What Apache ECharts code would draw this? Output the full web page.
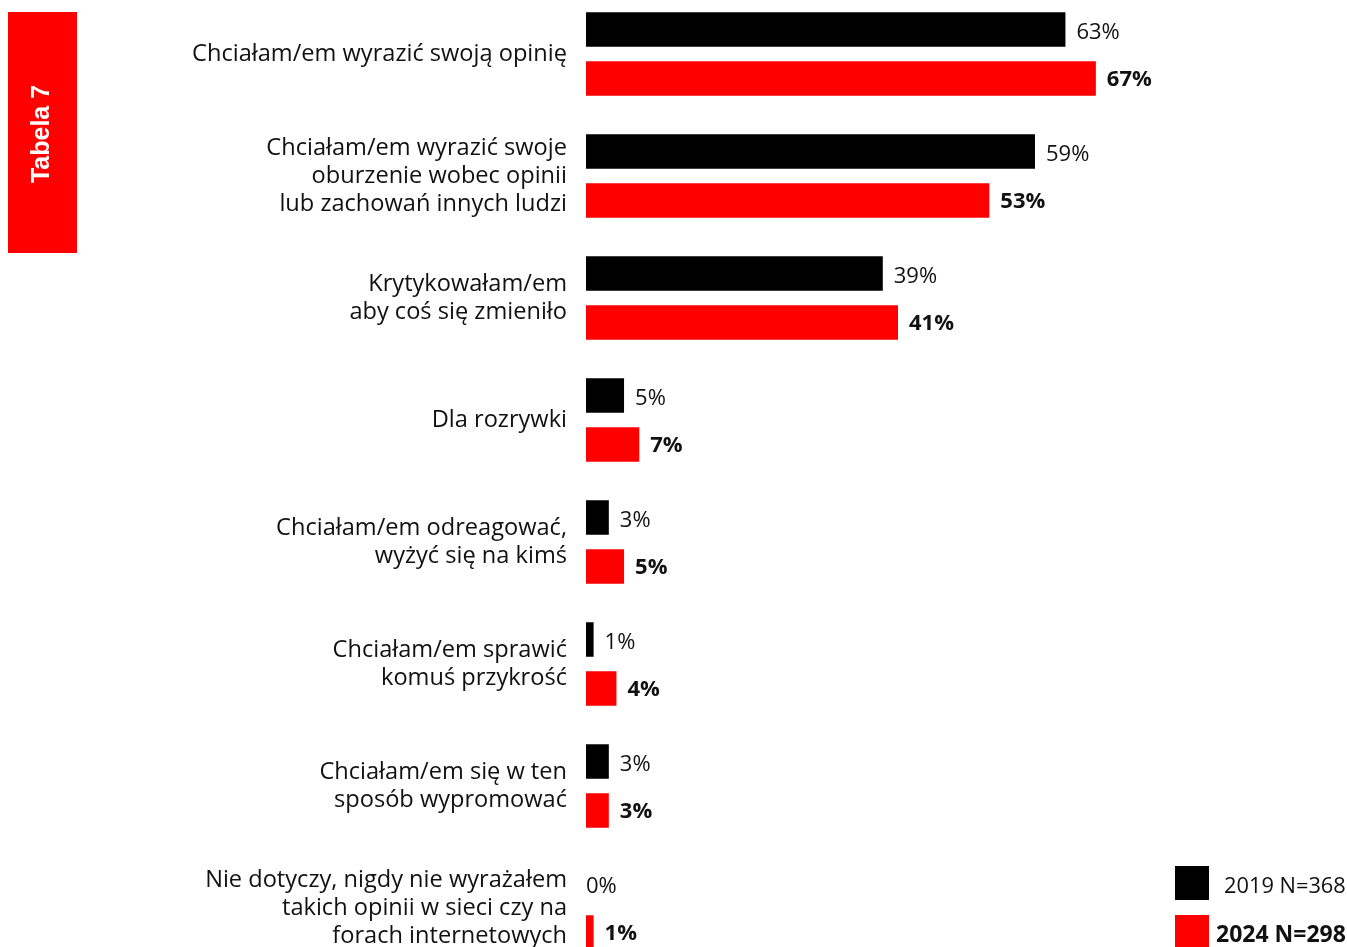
<!DOCTYPE html>
<html>
<head>
<meta charset="utf-8">
<script src="https://cdn.jsdelivr.net/npm/echarts@6/dist/echarts.min.js"></script>
<style>
  html, body { margin: 0; padding: 0; background: #fff; overflow: hidden; }
  body { width: 1347px; height: 947px; position: relative; }
  #chart { position: absolute; left: 0; top: -7px; width: 1347px; height: 990px; }
</style>
</head>
<body>
<div id="chart"></div>
<script>
// Reasons for posting opinions online, 2019 vs 2024 (percent of respondents)
const categories = [
  'Chciałam/em wyrazić swoją opinię',
  'Chciałam/em wyrazić swoje\noburzenie wobec opinii\nlub zachowań innych ludzi',
  'Krytykowałam/em\naby coś się zmieniło',
  'Dla rozrywki',
  'Chciałam/em odreagować,\nwyżyć się na kimś',
  'Chciałam/em sprawić\nkomuś przykrość',
  'Chciałam/em się w ten\nsposób wypromować',
  'Nie dotyczy, nigdy nie wyrażałem\ntakich opinii w sieci czy na\nforach internetowych'
];
const values2019 = [63, 59, 39, 5, 3, 1, 3, 0];
const values2024 = [67, 53, 41, 7, 5, 4, 3, 1];
const seriesNames = ['2019 N=368', '2024 N=298'];
const tableTitle = 'Tabela 7';

const FONT = '"Open Sans", sans-serif';
const RED = '#ff0000';
const BLACK = '#000000';

// a zero-length bar keeps its label right at the axis start
const withZeroLabel = arr => arr.map(v => v === 0 ? { value: v, label: { distance: 0 } } : v);

const chart = echarts.init(document.getElementById('chart'), null, { renderer: 'canvas' });

chart.setOption({
  animation: false,
  backgroundColor: '#ffffff',
  grid: { left: 586, top: 0, width: 763, height: 976, containLabel: false },
  xAxis: {
    type: 'value', min: 0, max: 100,
    show: false
  },
  yAxis: {
    type: 'category',
    data: categories,
    inverse: true,
    axisLine: { show: false },
    axisTick: { show: false },
    splitLine: { show: false },
    axisLabel: {
      margin: 19,
      align: 'right',
      color: '#111',
      fontFamily: FONT,
      fontSize: 23.6,
      lineHeight: 28
    }
  },
  legend: {
    orient: 'vertical',
    left: 1175,
    top: 873,
    padding: 0,
    itemWidth: 34,
    itemHeight: 34,
    itemGap: 15,
    icon: 'rect',
    data: seriesNames,
    formatter: name => name === seriesNames[1] ? '{b|' + name + '}' : '{n|' + name + '}',
    textStyle: {
      rich: {
        n: { fontFamily: FONT, fontSize: 21.8, color: '#111', padding: [8, 0, 0, 10] },
        b: { fontFamily: FONT, fontSize: 23, fontWeight: 'bold', color: '#111', padding: [7, 0, 0, 2] }
      }
    }
  },
  series: [
    {
      name: seriesNames[0],
      type: 'bar',
      data: withZeroLabel(values2019),
      barWidth: 34.5,
      barGap: '42%',
      itemStyle: { color: BLACK },
      label: {
        show: true, position: 'right', distance: 11, offset: [0, 3],
        formatter: '{c}%',
        fontFamily: FONT, fontSize: 22, color: '#111'
      }
    },
    {
      name: seriesNames[1],
      type: 'bar',
      data: withZeroLabel(values2024),
      barWidth: 34.5,
      itemStyle: { color: RED },
      label: {
        show: true, position: 'right', distance: 11, offset: [0, 1],
        formatter: '{c}%',
        fontFamily: FONT, fontSize: 22, fontWeight: 'bold', color: '#111'
      }
    }
  ],
  graphic: [
    {
      type: 'rect',
      shape: { x: 8, y: 19, width: 69, height: 241 },
      style: { fill: RED }
    },
    {
      type: 'text',
      x: 42, y: 141,
      rotation: Math.PI / 2,
      style: {
        text: tableTitle,
        fill: '#fff',
        font: 'bold 25px "Liberation Sans", Arial, sans-serif',
        align: 'center',
        verticalAlign: 'middle'
      }
    }
  ]
});
</script>
</body>
</html>
